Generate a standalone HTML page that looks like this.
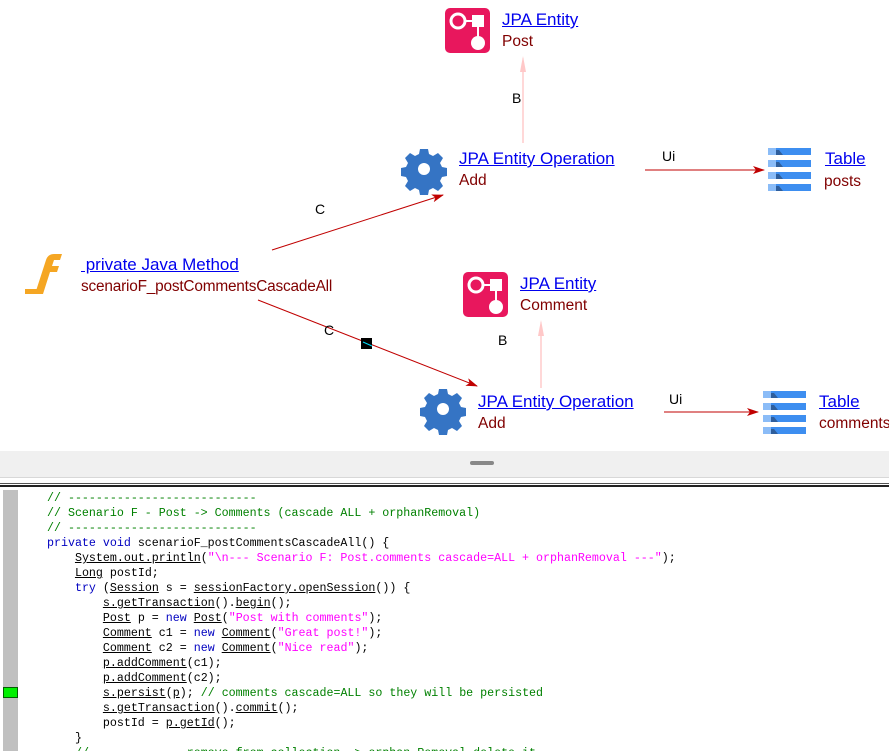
<!DOCTYPE html>
<html><head><meta charset="utf-8"><style>
body{margin:0;width:889px;height:751px;overflow:hidden;background:#fff;position:relative;font-family:"Liberation Sans",sans-serif}
.t{position:absolute;font-size:16px;line-height:18px;white-space:nowrap}
.l{color:#0000ee;text-decoration:underline;font-size:17px}
.s{color:#800000;font-size:15.5px}
.lab{position:absolute;font-size:14px;color:#000;font-family:"Liberation Sans",sans-serif}
#code{position:absolute;left:0;top:487px;width:889px;height:264px;background:#fff;overflow:hidden}
#code pre{position:absolute;left:47px;top:4px;margin:0;font-family:"Liberation Mono",monospace;font-size:11.65px;line-height:15px;color:#000}
.c{color:#008000}.k{color:#0000c0}.q{color:#ff00ff}.u{text-decoration:underline}
</style></head><body>
<svg width="889" height="451" style="position:absolute;left:0;top:0">
<defs>
<marker id="a" markerWidth="12" markerHeight="8" refX="11" refY="4" orient="auto" markerUnits="userSpaceOnUse"><path d="M0,0 L12,4 L0,8 L3,4z" fill="#c00000"/></marker>
<g id="gear"><path fill="#3574c4" d="M-4,-20h8l1,5l4,2l5-3l5,5l-3,5l2,4l5,1v8l-5,1l-2,4l3,5l-5,5l-5-3l-4,2l-1,5h-8l-1-5l-4-2l-5,3l-5-5l3-5l-2-4l-5-1v-8l5-1l2-4l-3-5l5-5l5,3l4-2z"/><circle r="6" fill="#fff"/></g>
<g id="ent"><rect width="45" height="45" rx="5" fill="#e8175d"/><circle cx="13" cy="13" r="7" fill="none" stroke="#fff" stroke-width="3"/><rect x="27" y="7" width="12" height="12" fill="#fff"/><line x1="20" y1="13" x2="28" y2="13" stroke="#fff" stroke-width="2"/><line x1="33" y1="18" x2="33" y2="30" stroke="#fff" stroke-width="2"/><circle cx="33" cy="35" r="7" fill="#fff"/></g>
<g id="tbl"><g fill="#3d8ef0"><rect x="8" y="0" width="35" height="7"/><rect x="8" y="12" width="35" height="7"/><rect x="8" y="24" width="35" height="7"/><rect x="8" y="36" width="35" height="7"/></g><g fill="#8bbcf7"><rect width="8" height="7"/><rect y="12" width="8" height="7"/><rect y="24" width="8" height="7"/><rect y="36" width="8" height="7"/></g><g fill="#2e5e9c"><path d="M8,2h3l4,5h-7z"/><path d="M8,14h3l4,5h-7z"/><path d="M8,26h3l4,5h-7z"/><path d="M8,38h3l4,5h-7z"/></g></g>
</defs>
<use href="#ent" x="445" y="8"/>
<use href="#ent" x="463" y="272"/>
<use href="#gear" x="424" y="169"/>
<use href="#gear" x="443" y="409"/>
<use href="#tbl" x="768" y="148"/>
<use href="#tbl" x="763" y="391"/>
<g transform="translate(25,254)"><path d="M10,40 L21,6 Q23,0 29,0 L37,0 L35,6 L29,6 L27,12 L34,12 L32,18 L25,18 L18,40z" fill="#f5a623"/><rect x="0" y="35" width="12" height="5" fill="#f5a623"/></g>
<line x1="272" y1="250" x2="443" y2="195" stroke="#c00000" marker-end="url(#a)"/>
<line x1="258" y1="300" x2="477" y2="386" stroke="#c00000" marker-end="url(#a)"/>
<rect x="361" y="338" width="11" height="11" fill="#000"/>
<line x1="363" y1="342" x2="372" y2="346" stroke="#00e0ff"/>
<line x1="645" y1="170" x2="764" y2="170" stroke="#c00000" marker-end="url(#a)"/>
<line x1="664" y1="412" x2="758" y2="412" stroke="#c00000" marker-end="url(#a)"/>
<line x1="523" y1="143" x2="523" y2="58" stroke="#ffb0b0"/>
<path d="M523,56 l-3,16 h6z" fill="#ffc8c8"/>
<line x1="541" y1="388" x2="541" y2="322" stroke="#ffb0b0"/>
<path d="M541,320 l-3,16 h6z" fill="#ffc8c8"/>
</svg>
<div class="t l" style="left:502px;top:11px">JPA Entity</div><div class="t s" style="left:502px;top:33px">Post</div>
<div class="t l" style="left:459px;top:150px">JPA Entity Operation</div><div class="t s" style="left:459px;top:172px">Add</div>
<div class="t l" style="left:825px;top:150px">Table</div><div class="t s" style="left:824px;top:173px">posts</div>
<div class="t l" style="left:81px;top:256px">&nbsp;private Java Method</div><div class="t s" style="left:81px;top:278px;font-size:15.4px;letter-spacing:-0.2px">scenarioF_postCommentsCascadeAll</div>
<div class="t l" style="left:520px;top:275px">JPA Entity</div><div class="t s" style="left:520px;top:297px">Comment</div>
<div class="t l" style="left:478px;top:393px">JPA Entity Operation</div><div class="t s" style="left:478px;top:415px">Add</div>
<div class="t l" style="left:819px;top:393px">Table</div><div class="t s" style="left:819px;top:415px">comments</div>
<div class="lab" style="left:315px;top:201px">C</div>
<div class="lab" style="left:324px;top:322px">C</div>
<div class="lab" style="left:512px;top:90px">B</div>
<div class="lab" style="left:498px;top:332px">B</div>
<div class="lab" style="left:662px;top:148px">Ui</div>
<div class="lab" style="left:669px;top:391px">Ui</div>
<div style="position:absolute;left:0;top:451px;width:889px;height:26px;background:#f0f0f0"></div>
<div style="position:absolute;left:470px;top:461px;width:24px;height:4px;background:#888;border-radius:2px"></div>
<div style="position:absolute;left:0;top:477px;width:889px;height:1px;background:#d8d8d8"></div>
<div style="position:absolute;left:0;top:483px;width:889px;height:1px;background:#555"></div>
<div style="position:absolute;left:0;top:485px;width:889px;height:2px;background:#222"></div>
<div id="code">
<div style="position:absolute;left:3px;top:3px;width:15px;height:261px;background:#c0c0c0"></div>
<div style="position:absolute;left:3px;top:200px;width:15px;height:11px;background:#00f000;border:1px solid #006000;box-sizing:border-box"></div>
<pre><span class="c">// ---------------------------</span>
<span class="c">// Scenario F - Post -&gt; Comments (cascade ALL + orphanRemoval)</span>
<span class="c">// ---------------------------</span>
<span class="k">private void</span> scenarioF_postCommentsCascadeAll() {
    <span class="u">System.out.println</span>(<span class="q">"\n--- Scenario F: Post.comments cascade=ALL + orphanRemoval ---"</span>);
    <span class="u">Long</span> postId;
    <span class="k">try</span> (<span class="u">Session</span> s = <span class="u">sessionFactory.openSession</span>()) {
        <span class="u">s.getTransaction</span>().<span class="u">begin</span>();
        <span class="u">Post</span> p = <span class="k">new</span> <span class="u">Post</span>(<span class="q">"Post with comments"</span>);
        <span class="u">Comment</span> c1 = <span class="k">new</span> <span class="u">Comment</span>(<span class="q">"Great post!"</span>);
        <span class="u">Comment</span> c2 = <span class="k">new</span> <span class="u">Comment</span>(<span class="q">"Nice read"</span>);
        <span class="u">p.addComment</span>(c1);
        <span class="u">p.addComment</span>(c2);
        <span class="u">s.persist</span>(<span class="u">p</span>); <span class="c">// comments cascade=ALL so they will be persisted</span>
        <span class="u">s.getTransaction</span>().<span class="u">commit</span>();
        postId = <span class="u">p.getId</span>();
    }
    <span class="c">// ------------ remove from collection -&gt; orphan Removal delete it</span></pre>
</div>
</body></html>
